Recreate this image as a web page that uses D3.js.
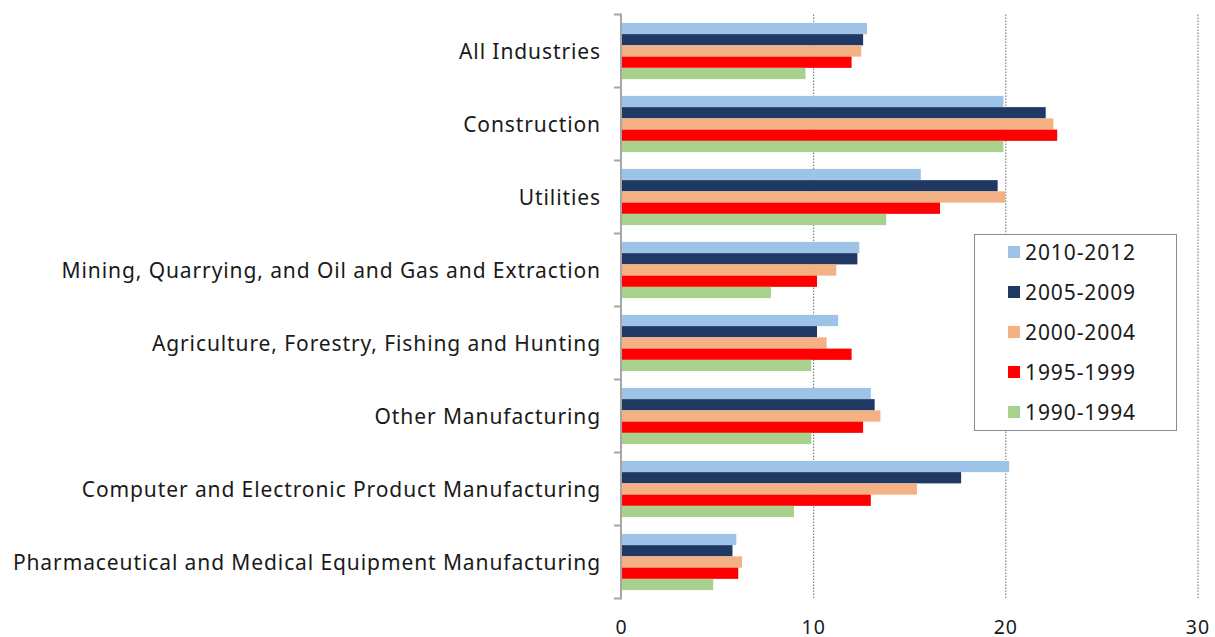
<!DOCTYPE html>
<html>
<head>
<meta charset="utf-8">
<script src="https://cdn.jsdelivr.net/npm/d3@7"></script>
<style>
  html, body { margin: 0; padding: 0; background: #fff; }
  svg text { font-family: "Noto Sans", "Open Sans", sans-serif; fill: #1a1a1a; }
</style>
</head>
<body>
<svg id="chart" width="1215" height="637"></svg>
<script>
// Industry categories, top to bottom
const categories = [
  "All Industries",
  "Construction",
  "Utilities",
  "Mining, Quarrying, and Oil and Gas and Extraction",
  "Agriculture, Forestry, Fishing and Hunting",
  "Other Manufacturing",
  "Computer and Electronic Product Manufacturing",
  "Pharmaceutical and Medical Equipment Manufacturing"
];

// Periods (series), in the order bars are stacked within each group
const periods = ["2010-2012", "2005-2009", "2000-2004", "1995-1999", "1990-1994"];

// Values per period, one per category
const v2010_2012 = [12.8, 19.9, 15.6, 12.4, 11.3, 13.0, 20.2, 6.0];
const v2005_2009 = [12.6, 22.1, 19.6, 12.3, 10.2, 13.2, 17.7, 5.8];
const v2000_2004 = [12.5, 22.5, 20.0, 11.2, 10.7, 13.5, 15.4, 6.3];
const v1995_1999 = [12.0, 22.7, 16.6, 10.2, 12.0, 12.6, 13.0, 6.1];
const v1990_1994 = [9.6, 19.9, 13.8, 7.8, 9.9, 9.9, 9.0, 4.8];

const xTicks = [0, 10, 20, 30];

const seriesValues = [v2010_2012, v2005_2009, v2000_2004, v1995_1999, v1990_1994];
const colors = ["#9DC3E6", "#1F3864", "#F4B183", "#FF0000", "#A9D18E"];

const svg = d3.select("#chart");
const margin = { left: 621, right: 18, top: 14.5, bottom: 38.5 };
const W = 1215, H = 637;

const x = d3.scaleLinear().domain([0, 30]).range([margin.left, 1197.5]);
const y0 = d3.scaleBand().domain(categories)
  .range([margin.top, H - margin.bottom])
  .paddingInner(0.23).paddingOuter(0.115);
const y1 = d3.scaleBand().domain(periods).range([0, y0.bandwidth()]);

// dotted vertical gridlines
svg.append("g")
  .selectAll("line")
  .data(xTicks.filter(d => d > 0))
  .join("line")
  .attr("x1", d => x(d) + 0.5).attr("x2", d => x(d) + 0.5)
  .attr("y1", margin.top).attr("y2", H - margin.bottom)
  .attr("stroke", "#6b6b6b").attr("stroke-width", 1)
  .attr("stroke-dasharray", "1.5,1.5");

// bars
const data = [];
categories.forEach((c, i) => {
  periods.forEach((p, j) => data.push({ c, p, v: seriesValues[j][i], color: colors[j] }));
});
svg.append("g")
  .selectAll("rect")
  .data(data)
  .join("rect")
  .attr("x", x(0))
  .attr("y", d => y0(d.c) + y1(d.p))
  .attr("width", d => x(d.v) - x(0))
  .attr("height", y1.bandwidth())
  .attr("fill", d => d.color);

// category axis (left), ticks at band boundaries
const axisG = svg.append("g");
const boundaries = categories.map(c => y0(c) - y0.step() * y0.paddingInner() / 2)
  .concat([H - margin.bottom]);
axisG.selectAll("line.tick")
  .data(boundaries)
  .join("line")
  .attr("x1", x(0) - 7).attr("x2", x(0))
  .attr("y1", d => d).attr("y2", d => d)
  .attr("stroke", "#a6a6a6").attr("stroke-width", 2);
axisG.append("line")
  .attr("x1", x(0)).attr("x2", x(0))
  .attr("y1", margin.top - 1).attr("y2", H - margin.bottom + 1)
  .attr("stroke", "#a6a6a6").attr("stroke-width", 2);

axisG.selectAll("text")
  .data(categories)
  .join("text")
  .attr("x", 601)
  .attr("y", d => y0(d) + y0.bandwidth() / 2)
  .attr("dy", "0.36em")
  .attr("text-anchor", "end")
  .attr("font-size", 21)
  .attr("letter-spacing", 0.9)
  .text(d => d);

// value axis labels
svg.append("g")
  .selectAll("text")
  .data(xTicks)
  .join("text")
  .attr("x", d => x(d) + 0.5)
  .attr("y", 634)
  .attr("text-anchor", "middle")
  .attr("font-size", 19.5)
  .attr("letter-spacing", 1)
  .text(d => d);

// legend
const legend = svg.append("g");
legend.append("rect")
  .attr("x", 974.5).attr("y", 234.5).attr("width", 202).attr("height", 196)
  .attr("fill", "#fff").attr("stroke", "#8c8c8c").attr("stroke-width", 1);
const items = legend.selectAll("g.item")
  .data(periods)
  .join("g")
  .attr("transform", (d, i) => `translate(1008, ${252 + i * 40})`);
items.append("rect")
  .attr("x", 0).attr("y", -6).attr("width", 12).attr("height", 12)
  .attr("fill", (d, i) => colors[i]);
items.append("text")
  .attr("x", 17).attr("y", 0).attr("dy", "0.36em")
  .attr("font-size", 21)
  .attr("letter-spacing", 0.9)
  .text(d => d);
</script>
</body>
</html>
